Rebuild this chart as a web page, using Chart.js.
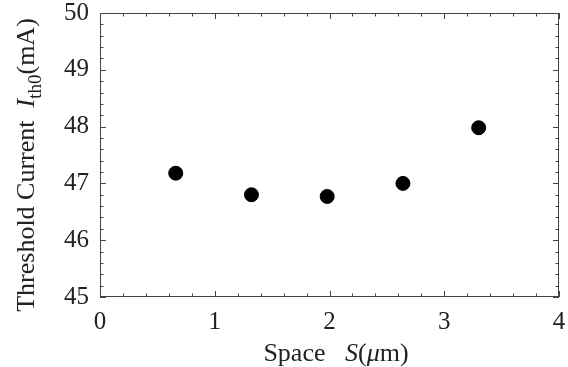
<!DOCTYPE html>
<html>
<head>
<meta charset="utf-8">
<script src="https://cdn.jsdelivr.net/npm/chart.js@4"></script>
<style>
  html, body { margin: 0; padding: 0; background: #fff; }
  #wrap { width: 568px; height: 367px; }
</style>
</head>
<body>
<div id="wrap"><canvas id="thresholdChart" width="568" height="367"></canvas></div>
<script>
// データ
const spaceValues = [0.66, 1.32, 1.98, 2.64, 3.30];
const thresholdCurrent = [47.18, 46.80, 46.77, 47.00, 47.98];
const xTickLabels = ['0', '1', '2', '3', '4'];
const yTickLabels = ['45', '46', '47', '48', '49', '50'];

const FONT = '"Liberation Serif", "DejaVu Serif", serif';
const TEXT_COLOR = '#222';
const FRAME_COLOR = '#444';

// 枠と内向きの目盛りを描画するプラグイン
const frameTicksPlugin = {
    id: 'frameTicks',
    afterDraw(chart) {
        const { ctx, chartArea: { left, right, top, bottom }, scales: { x, y } } = chart;
        ctx.save();
        ctx.strokeStyle = FRAME_COLOR;
        ctx.lineWidth = 1;
        ctx.strokeRect(left + 0.5, top + 0.5, right - left - 1, bottom - top - 1);

        ctx.beginPath();
        for (let i = 0; i <= 20; i++) {
            const v = x.min + i * 0.2;
            const px = Math.round(x.getPixelForValue(v)) + 0.5;
            const len = i % 5 === 0 ? 6 : 3.5;
            ctx.moveTo(px, bottom); ctx.lineTo(px, bottom - len);
            ctx.moveTo(px, top); ctx.lineTo(px, top + len);
        }
        for (let i = 0; i <= 25; i++) {
            const v = y.min + i * 0.2;
            const py = Math.round(y.getPixelForValue(v)) + 0.5;
            const len = i % 5 === 0 ? 6 : 3.5;
            ctx.moveTo(left, py); ctx.lineTo(left + len, py);
            ctx.moveTo(right, py); ctx.lineTo(right - len, py);
        }
        ctx.stroke();
        ctx.restore();
    }
};

// 斜体・下付きを含む軸タイトル
function drawRich(ctx, pieces, size) {
    const fontFor = p => `${p.italic ? 'italic ' : ''}${p.sub ? Math.round(size * 0.72) : size}px ${FONT}`;
    let total = 0;
    pieces.forEach(p => { ctx.font = fontFor(p); p.w = ctx.measureText(p.text).width; total += p.w; });
    let cx = -total / 2;
    pieces.forEach(p => {
        ctx.font = fontFor(p);
        ctx.fillText(p.text, cx, p.sub ? size * 0.25 : 0);
        cx += p.w;
    });
}

const axisTitlePlugin = {
    id: 'axisTitles',
    afterDraw(chart) {
        const { ctx } = chart;
        ctx.save();
        ctx.fillStyle = TEXT_COLOR;
        ctx.textBaseline = 'alphabetic';
        ctx.textAlign = 'left';

        ctx.save();
        ctx.translate(336, 361);
        drawRich(ctx, [
            { text: 'Space   ' },
            { text: 'S', italic: true },
            { text: '(' },
            { text: 'μ', italic: true },
            { text: 'm)' }
        ], 26);
        ctx.restore();

        ctx.save();
        ctx.translate(34, 165);
        ctx.rotate(-Math.PI / 2);
        drawRich(ctx, [
            { text: 'Threshold Current  ' },
            { text: 'I', italic: true },
            { text: 'th0', sub: true },
            { text: '(mA)' }
        ], 26);
        ctx.restore();

        ctx.restore();
    }
};

new Chart(document.getElementById('thresholdChart'), {
    type: 'scatter',
    data: {
        datasets: [{
            data: spaceValues.map((s, i) => ({ x: s, y: thresholdCurrent[i] })),
            backgroundColor: '#000',
            borderColor: '#000',
            pointRadius: 7,
            pointHoverRadius: 7
        }]
    },
    plugins: [frameTicksPlugin, axisTitlePlugin],
    options: {
        responsive: false,
        animation: false,
        layout: { padding: { left: 0, right: 9, top: 13, bottom: 0 } },
        plugins: { legend: { display: false }, tooltip: { enabled: false } },
        scales: {
            x: {
                type: 'linear',
                min: 0,
                max: 4,
                afterFit: s => { s.height = 70; s.paddingLeft = 0; s.paddingRight = 0; },
                afterBuildTicks: s => { s.ticks = xTickLabels.map(Number).map(v => ({ value: v })); },
                grid: { display: false, drawTicks: false },
                border: { display: false },
                ticks: {
                    padding: 10,
                    color: TEXT_COLOR,
                    font: { family: FONT, size: 25 },
                    maxRotation: 0,
                    callback: (v, i) => xTickLabels[i]
                }
            },
            y: {
                type: 'linear',
                min: 45,
                max: 50,
                afterFit: s => { s.width = 100; s.paddingTop = 0; s.paddingBottom = 0; },
                afterBuildTicks: s => { s.ticks = yTickLabels.map(Number).map(v => ({ value: v })); },
                grid: { display: false, drawTicks: false },
                border: { display: false },
                ticks: {
                    padding: 11,
                    color: TEXT_COLOR,
                    font: { family: FONT, size: 25 },
                    callback: (v, i) => yTickLabels[i]
                }
            }
        }
    }
});
</script>
</body>
</html>
